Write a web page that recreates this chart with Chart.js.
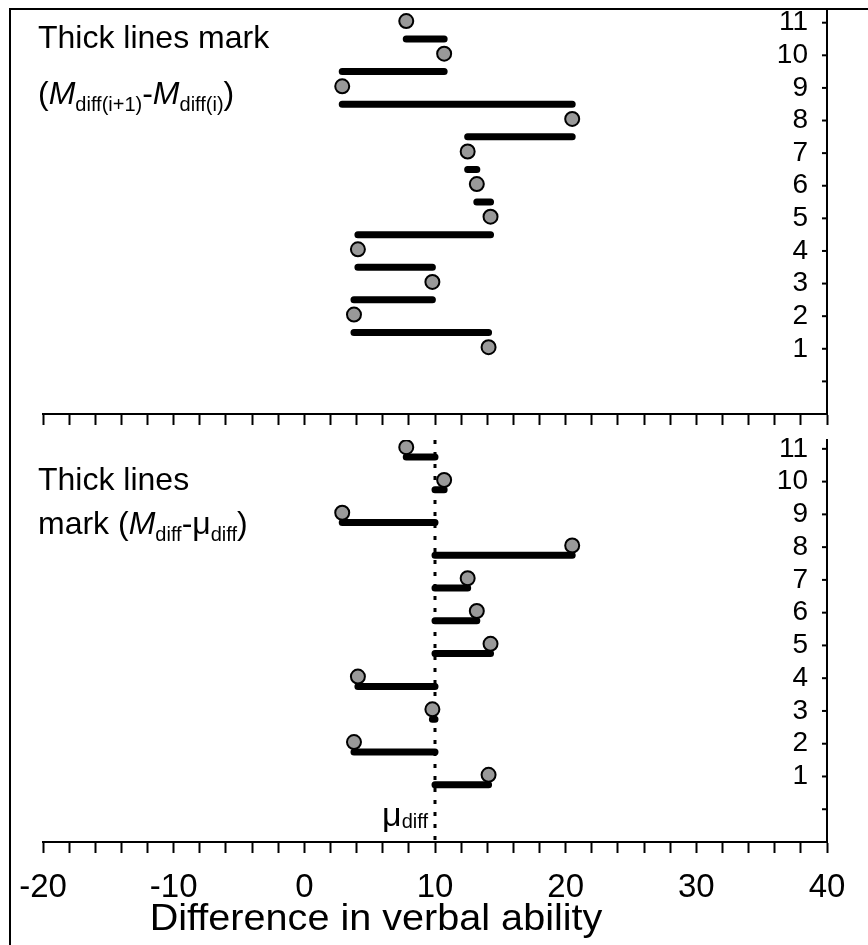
<!DOCTYPE html>
<html>
<head>
<meta charset="utf-8">
<title>Difference in verbal ability</title>
<script src="https://cdn.jsdelivr.net/npm/chart.js@4.4.1/dist/chart.umd.min.js"></script>
<style>
  html, body { margin: 0; padding: 0; background: #fff; }
  #wrap { position: relative; width: 868px; height: 945px; overflow: hidden; }
  #frame { position: absolute; left: 9px; top: 8px; width: 870px; height: 950px;
           border-left: 2px solid #000; border-top: 2px solid #000; }
  canvas { position: absolute; left: 0; }
  #topChart { top: 0; }
  #bottomChart { top: 430px; }
</style>
</head>
<body>
<div id="wrap">
  <div id="frame"></div>
  <canvas id="topChart" width="868" height="430"></canvas>
  <canvas id="bottomChart" width="868" height="515"></canvas>
</div>
<script>
const FONT = "'Liberation Sans', Arial, Helvetica, sans-serif";
Chart.defaults.font.family = FONT;
Chart.defaults.color = '#000';

// Values (item means, 1..11)
const itemNumbers = [1, 2, 3, 4, 5, 6, 7, 8, 9, 10, 11];
const itemMeans = [14.1, 3.8, 9.8, 4.1, 14.25, 13.2, 12.5, 20.5, 2.9, 10.7, 7.8];
const muDiff = 10;

// Axis ticks
const xTickValues = [-20, -18, -16, -14, -12, -10, -8, -6, -4, -2, 0, 2, 4, 6, 8, 10, 12, 14, 16, 18,
                     20, 22, 24, 26, 28, 30, 32, 34, 36, 38, 40];
const yTickValues = [0, 1, 2, 3, 4, 5, 6, 7, 8, 9, 10, 11];
const yTickLabels = ['', '1', '2', '3', '4', '5', '6', '7', '8', '9', '10', '11'];
const xTitle = 'Difference in verbal ability';

// Row offsets used by the original drawing
const DOT_LIFT = 0.05;   // dots sit a hair above the tick
const STEP_ROW = 0.5;    // top panel: bar between item i and i+1
const DEV_DROP = 0.25;   // bottom panel: bar just under its dot

const DOT_FILL = '#999999';

// Top panel: consecutive differences between item means
function stepSegments() {
  const pts = [];
  for (let i = 0; i < itemMeans.length - 1; i++) {
    const y = itemNumbers[i] + STEP_ROW;
    pts.push({ x: itemMeans[i], y }, { x: itemMeans[i + 1], y }, { x: itemMeans[i + 1], y: null });
  }
  return pts;
}

// Bottom panel: deviation of each item mean from mu_diff
function devSegments() {
  const pts = [];
  itemMeans.forEach((m, i) => {
    const y = itemNumbers[i] - DEV_DROP;
    pts.push({ x: muDiff, y }, { x: m, y }, { x: m, y: null });
  });
  return pts;
}

function dotPoints() {
  return itemMeans.map((m, i) => ({ x: m, y: itemNumbers[i] + DOT_LIFT }));
}

function segmentDataset(data) {
  return {
    data: data,
    borderColor: '#000',
    borderWidth: 7,
    borderCapStyle: 'round',
    pointRadius: 0,
    spanGaps: false,
    order: 0,
  };
}

function dotDataset() {
  return {
    data: dotPoints(),
    showLine: false,
    pointRadius: 7,
    pointBackgroundColor: DOT_FILL,
    pointBorderColor: '#000',
    pointBorderWidth: 2,
    order: 1,
  };
}

// Inward tick marks and labels on the right-hand axis
function drawYAxisMarks(chart) {
  const { ctx, chartArea, scales: { y } } = chart;
  ctx.save();
  ctx.strokeStyle = '#000';
  ctx.lineWidth = 2;
  ctx.fillStyle = '#000';
  ctx.font = '28px ' + FONT;
  ctx.textAlign = 'right';
  ctx.textBaseline = 'middle';
  yTickValues.forEach((v, i) => {
    const py = y.getPixelForValue(v);
    ctx.beginPath();
    ctx.moveTo(chartArea.right - 5, py);
    ctx.lineTo(chartArea.right, py);
    ctx.stroke();
    if (yTickLabels[i]) ctx.fillText(yTickLabels[i], chartArea.right - 19, py);
  });
  ctx.restore();
}

// Text with italics and subscripts, drawn left to right
function richWidth(ctx, parts) {
  let w = 0;
  parts.forEach(p => {
    ctx.font = (p.italic ? 'italic ' : '') + p.size + 'px ' + FONT;
    w += ctx.measureText(p.text).width;
  });
  return w;
}

function drawRich(ctx, x, y, parts) {
  ctx.save();
  ctx.fillStyle = '#000';
  ctx.textAlign = 'left';
  ctx.textBaseline = 'alphabetic';
  parts.forEach(p => {
    ctx.font = (p.italic ? 'italic ' : '') + p.size + 'px ' + FONT;
    ctx.fillText(p.text, x, y + (p.dy || 0));
    x += ctx.measureText(p.text).width;
  });
  ctx.restore();
}

const BIG = 32, SUB = 20, SUB_DY = 7;

const topNote = {
  id: 'topNote',
  afterDraw(chart) {
    drawYAxisMarks(chart);
    const ctx = chart.ctx;
    drawRich(ctx, 38, 48, [{ text: 'Thick lines mark', size: BIG }]);
    drawRich(ctx, 38, 104, [
      { text: '(', size: BIG },
      { text: 'M', size: BIG, italic: true },
      { text: 'diff(i+1)', size: SUB, dy: SUB_DY },
      { text: '-', size: BIG },
      { text: 'M', size: BIG, italic: true },
      { text: 'diff(i)', size: SUB, dy: SUB_DY },
      { text: ')', size: BIG },
    ]);
  }
};

const bottomNote = {
  id: 'bottomNote',
  afterDraw(chart) {
    drawYAxisMarks(chart);
    const ctx = chart.ctx;
    drawRich(ctx, 38, 60, [{ text: 'Thick lines', size: BIG }]);
    drawRich(ctx, 38, 104, [
      { text: 'mark (', size: BIG },
      { text: 'M', size: BIG, italic: true },
      { text: 'diff', size: SUB, dy: SUB_DY },
      { text: '-', size: BIG },
      { text: '\u03bc', size: BIG },
      { text: 'diff', size: SUB, dy: SUB_DY },
      { text: ')', size: BIG },
    ]);

    // mu_diff label next to the dotted reference line
    const muParts = [{ text: '\u03bc', size: 34 }, { text: 'diff', size: SUB, dy: 2 }];
    const muX = chart.scales.x.getPixelForValue(muDiff);
    drawRich(ctx, muX - 7 - richWidth(ctx, muParts), 396, muParts);

    // axis title: slightly wide lettering, sits left of the plot centre in the original
    ctx.save();
    ctx.fillStyle = '#000';
    ctx.font = '36px ' + FONT;
    ctx.textAlign = 'center';
    ctx.textBaseline = 'alphabetic';
    ctx.translate(376, 500);
    ctx.scale(1.1, 1);
    ctx.fillText(xTitle, 0, 0);
    ctx.restore();
  }
};

function panelOptions(cfg) {
  return {
    responsive: false,
    animation: false,
    events: [],
    layout: { padding: { left: 43, right: 41, top: cfg.top, bottom: 0 } },
    plugins: { legend: { display: false }, tooltip: { enabled: false } },
    scales: {
      x: {
        type: 'linear',
        min: -20,
        max: 40,
        afterBuildTicks: s => { s.ticks = xTickValues.map(v => ({ value: v })); },
        afterFit: s => { s.height = cfg.xHeight; s.paddingLeft = 0; s.paddingRight = 0; },
        grid: { drawOnChartArea: false, drawTicks: true, tickLength: 11, tickWidth: 2, tickColor: '#000' },
        border: { display: true, color: '#000', width: 2 },
        ticks: {
          display: cfg.xLabels,
          autoSkip: false,
          maxRotation: 0,
          padding: 15,
          color: '#000',
          font: { size: 33 },
          callback: v => (v % 10 === 0 ? String(v) : '')
        }
      },
      y: {
        type: 'linear',
        position: 'right',
        min: -1,
        max: cfg.yMax,
        afterBuildTicks: s => { s.ticks = yTickValues.map(v => ({ value: v })); },
        afterFit: s => { s.width = 0; s.paddingTop = 0; s.paddingBottom = 0; },
        grid: { drawOnChartArea: false, drawTicks: false },
        border: { display: true, color: '#000', width: 2 },
        ticks: { display: false }
      }
    }
  };
}

new Chart(document.getElementById('topChart'), {
  type: 'line',
  data: { datasets: [segmentDataset(stepSegments()), dotDataset()] },
  options: panelOptions({ top: 9, xHeight: 16, xLabels: false, yMax: 11.42 }),
  plugins: [topNote]
});

new Chart(document.getElementById('bottomChart'), {
  type: 'line',
  data: {
    datasets: [
      segmentDataset(devSegments()),
      dotDataset(),
      {
        data: [{ x: muDiff, y: 11.27 }, { x: muDiff, y: -1 }],
        borderColor: '#000',
        borderWidth: 3,
        borderDash: [4, 8],
        pointRadius: 0,
        order: 2,
      }
    ]
  },
  options: panelOptions({ top: 10, xHeight: 103, xLabels: true, yMax: 11.27 }),
  plugins: [bottomNote]
});
</script>
</body>
</html>
